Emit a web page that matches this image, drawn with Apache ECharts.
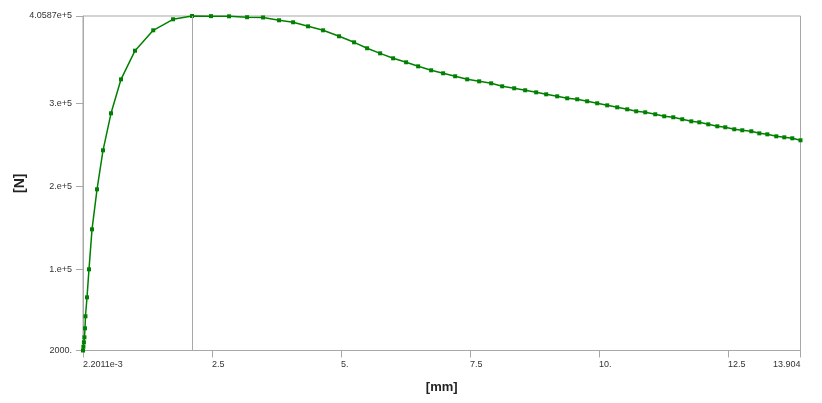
<!DOCTYPE html>
<html>
<head>
<meta charset="utf-8">
<script src="https://cdn.jsdelivr.net/npm/echarts@6/dist/echarts.min.js"></script>
<style>html,body{margin:0;padding:0;background:#fff}#c{width:822px;height:403px}</style>
</head>
<body>
<div id="c"></div>
<script>
// Displacement [mm]
const xValues = [0.0022011, 0.01, 0.02, 0.03, 0.041, 0.05, 0.08, 0.118, 0.177, 0.274, 0.390, 0.545, 0.739, 1.010, 1.363, 1.747, 2.115,
  2.483, 2.832, 3.181, 3.491, 3.801, 4.073, 4.363, 4.654, 4.964, 5.255, 5.507, 5.759, 6.011, 6.263, 6.496, 6.748, 6.980,
  7.213, 7.446, 7.678, 7.911, 8.124, 8.357, 8.570, 8.783, 8.977, 9.190, 9.384, 9.578, 9.771, 9.965, 10.159, 10.353,
  10.547, 10.721, 10.896, 11.090, 11.264, 11.439, 11.613, 11.788, 11.943, 12.117, 12.292, 12.447, 12.621, 12.776,
  12.951, 13.106, 13.261, 13.435, 13.590, 13.745, 13.904];
// Force [N]
const yValues = [2000, 6600, 11900, 17900, 28800, 43300, 66200, 100000, 148300, 196600, 243700, 288400, 329400, 364000, 388600, 401900, 405870,
  405700, 405500, 404400, 404100, 400700, 398300, 393400, 388600, 381400, 374100, 366900, 360800, 354800, 350000, 345100, 340300, 336700,
  333100, 329400, 327000, 324600, 321000, 318600, 316200, 313700, 311300, 308900, 306500, 305300, 302900, 300500, 298000, 295600,
  293200, 290800, 289600, 287200, 284800, 283600, 281200, 278700, 277500, 275100, 272700, 271500, 269100, 267900,
  266700, 264200, 263000, 260600, 259400, 258200, 255800];
const xTickValues = [0.0022011, 2.5, 5, 7.5, 10, 12.5, 13.904];
const xTickLabels = ["2.2011e-3", "2.5", "5.", "7.5", "10.", "12.5", "13.904"];
const yTickValues = [2000, 100000, 200000, 300000, 405870];
const yTickLabels = ["2000.", "1.e+5", "2.e+5", "3.e+5", "4.0587e+5"];
const probeX = 2.115;
const xName = "[mm]";
const yName = "[N]";

const seriesData = xValues.map((x, i) => [x, yValues[i]]);
function labelFor(vals, labs) {
  return function (v) {
    let best = 0, bd = Infinity;
    vals.forEach((t, i) => { const d = Math.abs(t - v); if (d < bd) { bd = d; best = i; } });
    return labs[best];
  };
}
const grey = '#a8a8a8';
const chart = echarts.init(document.getElementById('c'), null, {renderer: 'canvas'});
chart.setOption({
  animation: false,
  grid: {left: 83, right: 21.5, top: 16, bottom: 52.5, show: true, borderColor: grey, borderWidth: 1,
    containLabel: false, outerBoundsMode: 'none'},
  xAxis: {
    type: 'value', min: xTickValues[0], max: xTickValues[xTickValues.length - 1],
    name: xName, nameLocation: 'middle', nameGap: 30, nameMoveOverlap: false,
    nameTextStyle: {fontFamily: 'Liberation Sans', fontWeight: 'bold', fontSize: 13, color: '#222'},
    axisLine: {show: true, lineStyle: {color: grey, width: 1}},
    axisTick: {show: true, length: 7, lineStyle: {color: grey}, customValues: xTickValues},
    axisLabel: {customValues: xTickValues, formatter: labelFor(xTickValues, xTickLabels), margin: 10, align: 'left', alignMaxLabel: 'right',
      fontFamily: 'Liberation Sans', fontSize: 9, color: '#333'},
    splitLine: {show: false}
  },
  yAxis: {
    type: 'value', min: yTickValues[0], max: yTickValues[yTickValues.length - 1],
    name: yName, nameLocation: 'middle', nameGap: 56, nameRotate: 90, nameMoveOverlap: false,
    nameTextStyle: {fontFamily: 'Liberation Sans', fontWeight: 'bold', fontSize: 14, color: '#222'},
    axisLine: {show: true, lineStyle: {color: grey, width: 1}},
    axisTick: {show: true, length: 7, lineStyle: {color: grey}, customValues: yTickValues},
    axisLabel: {customValues: yTickValues, formatter: labelFor(yTickValues, yTickLabels), margin: 11,
      fontFamily: 'Liberation Sans', fontSize: 9, color: '#333'},
    splitLine: {show: false}
  },
  series: [{
    type: 'line', data: seriesData, showAllSymbol: true,
    symbol: 'rect', symbolSize: 4,
    itemStyle: {color: '#008000'},
    lineStyle: {color: '#008000', width: 1.5},
    clip: false,
    markLine: {
      silent: true, symbol: ['none', 'none'], label: {show: false},
      lineStyle: {color: grey, width: 1, type: 'solid'},
      data: [{xAxis: probeX}]
    },
    z: 3
  }]
});
</script>
</body>
</html>
